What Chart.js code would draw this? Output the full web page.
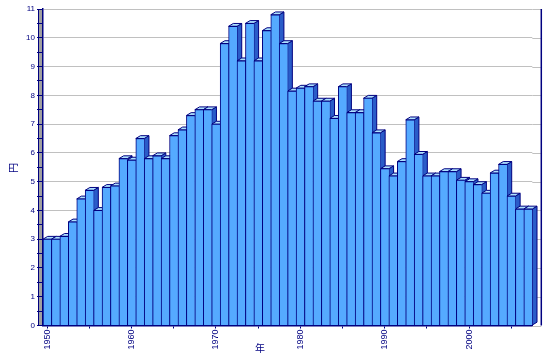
<!DOCTYPE html>
<html>
<head>
<meta charset="utf-8">
<script src="https://cdn.jsdelivr.net/npm/chart.js"></script>
<style>
body { margin: 0; background: #fff; }
#wrap { width: 549px; height: 363px; }
</style>
</head>
<body>
<div id="wrap"><canvas id="chart"></canvas></div>
<script>
// data
var years = ['1950','1951','1952','1953','1954','1955','1956','1957','1958','1959',
             '1960','1961','1962','1963','1964','1965','1966','1967','1968','1969',
             '1970','1971','1972','1973','1974','1975','1976','1977','1978','1979',
             '1980','1981','1982','1983','1984','1985','1986','1987','1988','1989',
             '1990','1991','1992','1993','1994','1995','1996','1997','1998','1999',
             '2000','2001','2002','2003','2004','2005','2006','2007'];
var values = [3.0, 3.0, 3.1, 3.6, 4.4, 4.7, 4.0, 4.8, 4.85, 5.8,
              5.75, 6.5, 5.8, 5.9, 5.8, 6.6, 6.8, 7.3, 7.5, 7.5,
              7.0, 9.8, 10.4, 9.2, 10.5, 9.2, 10.25, 10.8, 9.8, 8.15,
              8.25, 8.3, 7.8, 7.8, 7.2, 8.3, 7.4, 7.4, 7.9, 6.7,
              5.45, 5.2, 5.7, 7.15, 5.95, 5.2, 5.2, 5.35, 5.35, 5.05,
              5.0, 4.9, 4.6, 5.3, 5.6, 4.5, 4.05, 4.05];
var xTickLabels = ['1950','1960','1970','1980','1990','2000'];
var yTickLabels = [0,1,2,3,4,5,6,7,8,9,10,11];
var xTitle = '年';
var yTitle = '円';

var navy = '#000080';
var depthX = 4.7, depthY = 2.8;

// 3D側面・上面と壁
var box3d = {
    id: 'box3d',
    beforeDraw: function(chart) {
        var a = chart.chartArea, c = chart.ctx;
        c.save();
        c.fillStyle = '#a0a0a0';
        c.fillRect(a.left - 4.5, a.top, 4.5, a.bottom - a.top);
        c.strokeStyle = navy;
        c.lineWidth = 1;
        c.beginPath();
        c.moveTo(a.left - 4.5, a.top);
        c.lineTo(a.left - 4.5, a.bottom);
        c.stroke();
        c.restore();
    },
    beforeDatasetsDraw: function(chart) {
        var a = chart.chartArea, c = chart.ctx, ys = chart.scales.y;
        c.save();
        c.strokeStyle = '#c0c0c0';
        c.lineWidth = 1;
        yTickLabels.forEach(function(v) {
            var py = Math.round(ys.getPixelForValue(v)) + 0.5;
            c.beginPath();
            c.moveTo(a.right, py);
            c.lineTo(a.right + 9, py);
            c.stroke();
        });
        c.strokeStyle = navy;
        c.lineWidth = 1.5;
        c.beginPath();
        c.moveTo(a.right + 9, a.top);
        c.lineTo(a.right + 9, a.bottom);
        c.stroke();

        c.lineWidth = 1;
        var meta = chart.getDatasetMeta(0);
        meta.data.forEach(function(bar) {
            var p = bar.getProps(['x', 'y', 'base', 'width'], true);
            var l = p.x - p.width / 2, r = p.x + p.width / 2, t = p.y, b = p.base;
            c.strokeStyle = navy;
            c.fillStyle = '#2a5cc8';
            c.beginPath();
            c.moveTo(r, t);
            c.lineTo(r + depthX, t - depthY);
            c.lineTo(r + depthX, b - depthY);
            c.lineTo(r, b);
            c.closePath();
            c.fill();
            c.stroke();
            c.fillStyle = '#aee2ff';
            c.beginPath();
            c.moveTo(l, t);
            c.lineTo(l + depthX, t - depthY);
            c.lineTo(r + depthX, t - depthY);
            c.lineTo(r, t);
            c.closePath();
            c.fill();
            c.stroke();
        });
        c.restore();
    },
    afterDraw: function(chart) {
        var c = chart.ctx;
        c.save();
        c.fillStyle = navy;
        c.font = '10px "Noto Sans CJK JP"';
        c.textAlign = 'center';
        c.textBaseline = 'middle';
        c.fillText(xTitle, 260, 348);
        c.translate(13, 168);
        c.rotate(-Math.PI / 2);
        c.fillText(yTitle, 0, 0);
        c.restore();
    }
};

var ctx = document.getElementById('chart').getContext('2d');
var chart = new Chart(ctx, {
    type: 'bar',
    data: {
        labels: years,
        datasets: [{
            data: values,
            backgroundColor: '#55aaff',
            borderColor: navy,
            borderWidth: { left: 1, top: 1, right: 0, bottom: 0 },
            borderSkipped: false,
            barPercentage: 1,
            categoryPercentage: 1
        }]
    },
    options: {
        responsive: true,
        maintainAspectRatio: false,
        animation: false,
        layout: { padding: { top: 9, right: 16.7, left: 0, bottom: 0 } },
        plugins: { legend: { display: false }, tooltip: { enabled: false } },
        scales: {
            x: {
                offset: true,
                grid: {
                    offset: false,
                    drawOnChartArea: false,
                    tickLength: 3,
                    tickWidth: 1,
                    tickColor: function(c) { return (c.index % 5 === 0) ? navy : 'rgba(0,0,0,0)'; }
                },
                border: { color: navy, width: 1.5 },
                ticks: {
                    autoSkip: false,
                    minRotation: 90,
                    maxRotation: 90,
                    padding: 1,
                    color: navy,
                    font: { size: 9, family: '"Liberation Sans", Arial' },
                    callback: function(v, i) {
                        return xTickLabels.indexOf(years[i]) >= 0 ? years[i] : '';
                    }
                },
                afterFit: function(s) { s.height = 37.5; }
            },
            y: {
                min: 0,
                max: 11,
                ticks: {
                    stepSize: 0.5,
                    padding: 2,
                    color: navy,
                    font: { size: 8, family: '"Liberation Sans", Arial' },
                    callback: function(v) { return yTickLabels.indexOf(v) >= 0 ? String(v) : ''; }
                },
                grid: {
                    color: function(c) { return (c.tick && yTickLabels.indexOf(c.tick.value) >= 0) ? '#c0c0c0' : 'rgba(0,0,0,0)'; },
                    tickLength: 6,
                    tickWidth: 1,
                    tickColor: navy
                },
                border: { color: navy, width: 1.5 },
                afterFit: function(s) { s.width = 43; }
            }
        }
    },
    plugins: [box3d]
});
</script>
</body>
</html>
